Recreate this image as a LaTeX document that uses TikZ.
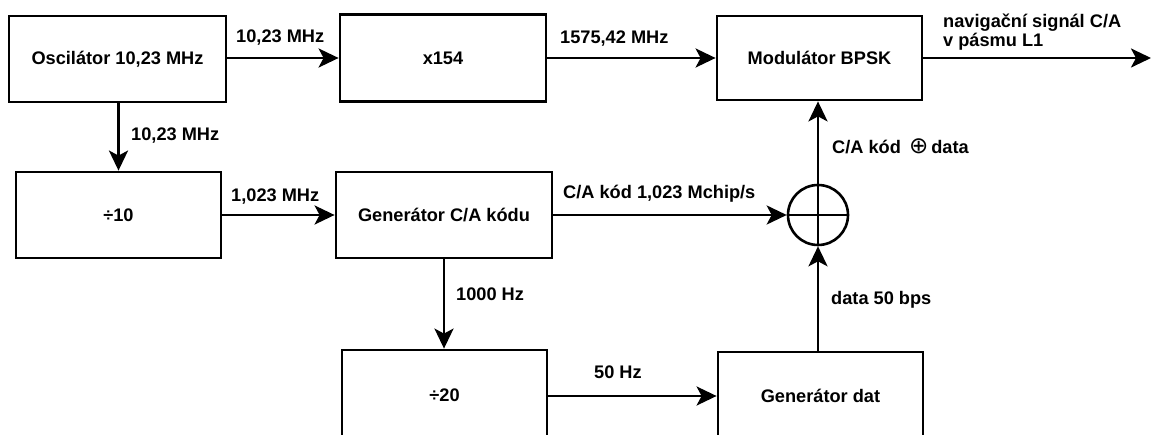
\documentclass[tikz,border=0pt]{standalone}
\usepackage{fontspec}
\setmainfont{Liberation Sans}
\newfontfamily\symfont{DejaVu Sans}
\usetikzlibrary{arrows.meta}
\begin{document}
\begin{tikzpicture}[x=1pt,y=-1pt,
  blk/.style={draw,line width=2.8pt,inner sep=0pt},
  conn/.style={line width=2.8pt,-{Stealth[length=20pt,width=19pt,inset=5pt]}},
  lbl/.style={anchor=base west,inner sep=0pt},
  every node/.style={font=\fontsize{18.2}{22}\selectfont\bfseries}]
\useasboundingbox (0,0) rectangle (1151,435);
\fill[white] (0,0) rectangle (1151,435);
% boxes
\node[blk,minimum width=217pt,minimum height=86pt] (osc) at (117.5,59) {Oscilátor 10,23 MHz};
\node[blk,minimum width=206pt,minimum height=87pt] (mul) at (443,58) {x154};
\node[blk,minimum width=205pt,minimum height=84pt] (mod) at (819.5,58) {Modulátor BPSK};
\node[blk,minimum width=205pt,minimum height=86pt] (div10) at (118.5,215) {÷10};
\node[blk,minimum width=216pt,minimum height=86pt] (gca) at (444,215) {Generátor C/A kódu};
\node[blk,minimum width=205pt,minimum height=90pt] (div20) at (444.5,395) {÷20};
\node[blk,minimum width=205pt,minimum height=88pt] (gdat) at (820.5,396) {Generátor dat};
\node[draw,circle,line width=2.6pt,minimum size=60pt,inner sep=0pt] (xor) at (818,215) {};
\draw[line width=2.4pt] (xor.north) -- (xor.south) (xor.west) -- (xor.east);
\coordinate (out) at (1151,58);
% connectors
\draw[conn] (osc.east |- mul.west) -- (mul.west);
\draw[conn] (mul.east) -- (mod.west);
\draw[conn] (mod.east) -- (out);
\draw[conn] (osc.south -| div10.north) -- (div10.north);
\draw[conn] (div10.east) -- (gca.west);
\draw[conn] (gca.east) -- (xor.west);
\draw[conn] (gca.south) -- (gca.south |- div20.north);
\draw[conn] (div20.east |- gdat.west) -- (gdat.west);
\draw[conn] (gdat.north -| xor.south) -- (xor.south);
\draw[conn] (xor.north) -- (xor.north |- mod.south);
% labels
\node[lbl] (l1) at (236,43) {10,23 MHz};
\node[lbl] (l2) at (560,44) {1575,42 MHz};
\node[lbl] (l3) at (943,28) {navigační signál C/A};
\node[lbl] (l4) at (943,47) {v pásmu L1};
\node[lbl] (l5) at (131,141) {10,23 MHz};
\node[lbl] (l6) at (231,202) {1,023 MHz};
\node[lbl] (l7) at (563,199) {C/A kód 1,023 Mchip/s};
\node[lbl] (l8) at (456,301) {1000 Hz};
\node[lbl] (l9) at (594,379) {50 Hz};
\node[lbl] (l10) at (832,154) {C/A kód \,{\symfont\mdseries\fontsize{23}{24}\selectfont ⊕}\,data};
\node[lbl] (l11) at (831,305) {data 50 bps};
\end{tikzpicture}
\end{document}
